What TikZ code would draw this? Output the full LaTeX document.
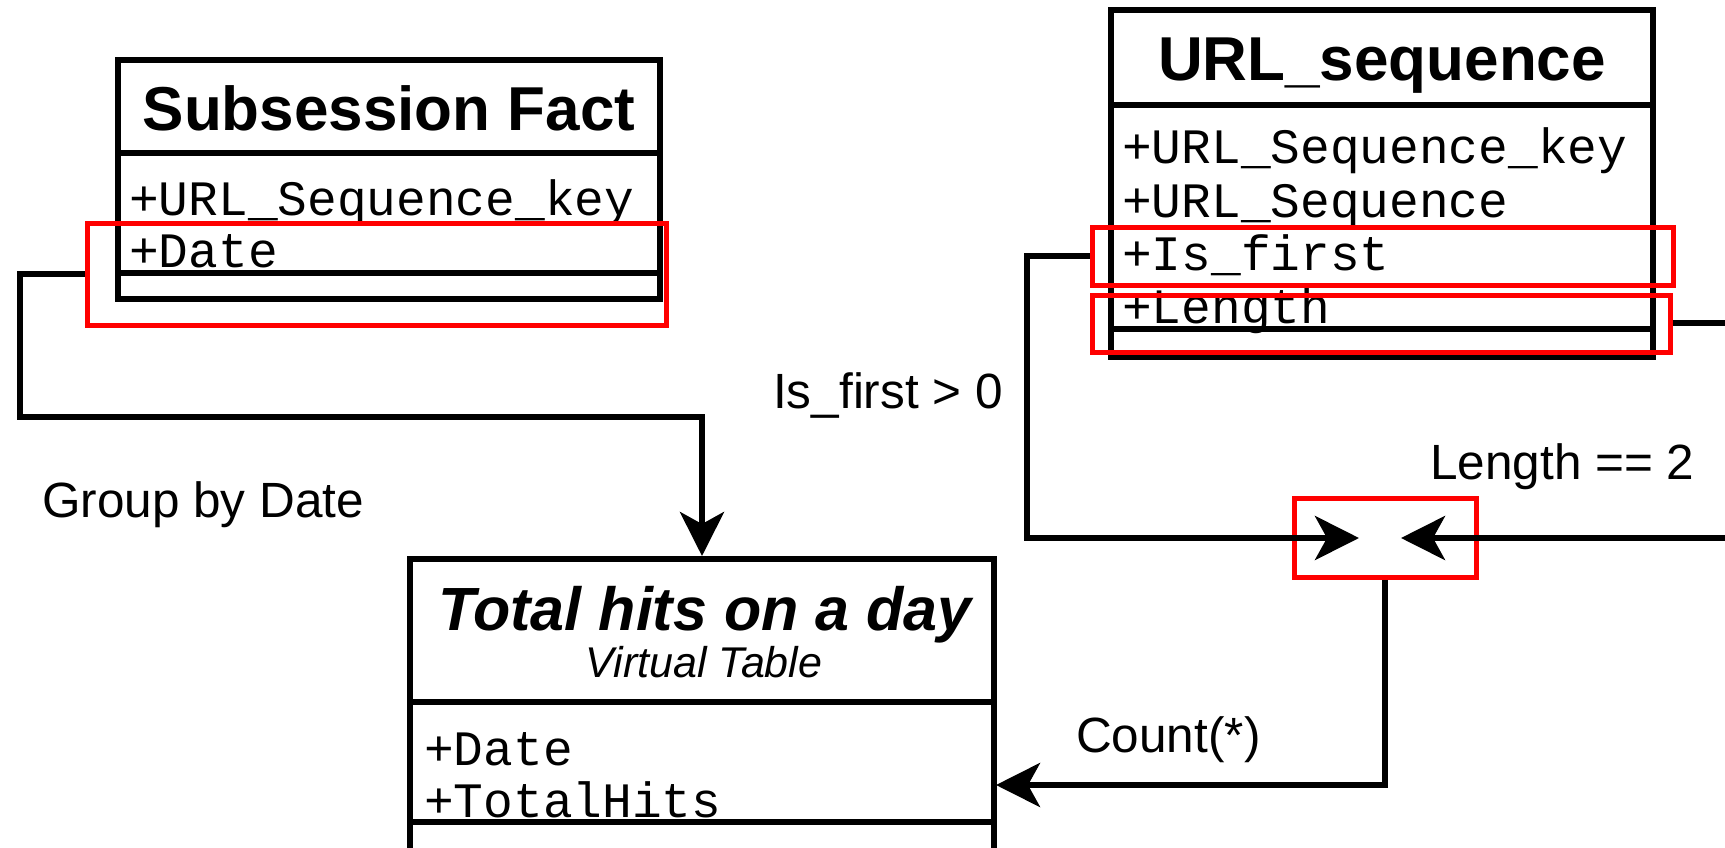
\documentclass[tikz,border=0pt]{standalone}
\usepackage{fontspec}
\setmainfont{Liberation Sans}
\setmonofont{Liberation Mono}
\usetikzlibrary{arrows.meta}

\begin{document}
\begin{tikzpicture}[x=1pt,y=-1pt,
  classbox/.style={draw=black, line width=6pt, fill=white, inner sep=0pt},
  sepline/.style={draw=black, line width=6pt},
  hilite/.style={draw=red, line width=5pt, inner sep=0pt},
  conn/.style={draw=black, line width=6pt},
  tip/.style={-{Stealth[length=44pt,width=44pt,inset=12pt]}},
  title/.style={font=\fontsize{62}{62}\selectfont\bfseries, anchor=base, inner sep=0pt},
  attr/.style={font=\fontsize{49.5}{50}\selectfont\ttfamily, anchor=base west, inner sep=0pt},
  lbl/.style={font=\fontsize{49.5}{50}\selectfont, anchor=base west, inner sep=0pt}
]
\useasboundingbox (0,0) rectangle (1725,847);
\fill[white] (0,0) rectangle (1725,847);
\clip (0,0) rectangle (1725,847);

% ---- class: Subsession Fact
\node[classbox, minimum width=542pt, minimum height=239pt] (subfact) at (389,179.5) {};
\draw[sepline] (subfact.west |- 0,153) -- (subfact.east |- 0,153);
\draw[sepline] (subfact.west |- 0,273) -- (subfact.east |- 0,273);
\node[title] (subfactT) at (389,130) {Subsession Fact};
\node[attr] (sfKey) at (129,215) {+URL\_Sequence\_key};
\node[attr] (sfDate) at (129,267) {+Date};

% ---- class: URL_sequence
\node[classbox, minimum width=542pt, minimum height=347pt] (urlseq) at (1382,183.5) {};
\draw[sepline] (urlseq.west |- 0,105) -- (urlseq.east |- 0,105);
\draw[sepline] (urlseq.west |- 0,329) -- (urlseq.east |- 0,329);
\node[title] (urlseqT) at (1382,80) {URL\_sequence};
\node[attr] (usKey) at (1122,163) {+URL\_Sequence\_key};
\node[attr] (usSeq) at (1122,217) {+URL\_Sequence};
\node[attr] (usFirst) at (1122,270) {+Is\_first};
\node[attr] (usLen) at (1122,323) {+Length};

% ---- virtual table: Total hits on a day
\node[classbox, minimum width=584pt, minimum height=320pt] (total) at (702,719) {};
\draw[sepline] (total.west |- 0,702) -- (total.east |- 0,702);
\draw[sepline] (total.west |- 0,822) -- (total.east |- 0,822);
\node[title, font=\fontsize{61}{61}\selectfont\bfseries\itshape] (totalT) at (705,630) {Total hits on a day};
\node[anchor=base, inner sep=0pt, font=\fontsize{43}{43}\selectfont\itshape] (totalSub) at (704,677) {Virtual Table};
\node[attr] (tDate) at (424,765) {+Date};
\node[attr] (tHits) at (424,817) {+TotalHits};

% ---- highlighted attributes and join point
\node[hilite, minimum width=579pt, minimum height=102pt] (hlDate) at (376.5,274) {};
\node[hilite, minimum width=581pt, minimum height=58pt] (hlFirst) at (1382.5,256) {};
\node[hilite, minimum width=578pt, minimum height=57pt] (hlLen) at (1381,323.5) {};
\node[hilite, minimum width=182pt, minimum height=79pt] (join) at (1385,537.5) {};
\coordinate (joinL) at (1359,538);
\coordinate (joinR) at (1401,538);

% ---- connectors
\coordinate (grpBend) at (20,417);
\draw[conn, tip] (hlDate.west) -| (grpBend) -| (total.north);

\coordinate (firstBend) at (1027,538);
\draw[conn, tip] (hlFirst.west) -| (firstBend) -- (joinL);

\coordinate (lenOut) at (1740,323);
\coordinate (lenBack) at (1740,538);
\draw[conn] (hlLen.east |- lenOut) -- (lenOut);
\draw[conn, tip] (lenBack) -- (joinR);

\coordinate (totIn) at (996,785);
\draw[conn, tip] (join.south) |- (totIn);

% ---- labels
\node[lbl] (lblGroup) at (42,517) {Group by Date};
\node[lbl] (lblFirst) at (773,408) {Is\_first > 0};
\node[lbl] (lblLen) at (1430,479) {Length == 2};
\node[lbl] (lblCount) at (1076,752) {Count(*)};
\end{tikzpicture}
\end{document}
